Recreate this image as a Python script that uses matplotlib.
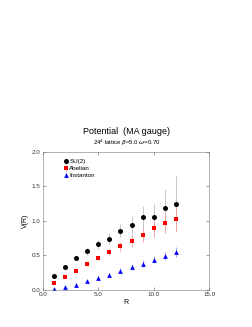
import matplotlib.pyplot as plt
import numpy as np

plt.rcParams["font.family"] = ["Liberation Sans", "DejaVu Sans"]

R = [1, 2, 3, 4, 5, 6, 7, 8, 9, 10, 11, 12]

su2 = [0.20, 0.34, 0.46, 0.56, 0.66, 0.74, 0.86, 0.94, 1.05, 1.05, 1.18, 1.25]
su2_err = [0.02, 0.02, 0.02, 0.05, 0.07, 0.08, 0.10, 0.13, 0.17, 0.20, 0.28, 0.40]

abelian = [0.10, 0.19, 0.28, 0.37, 0.46, 0.55, 0.63, 0.71, 0.80, 0.89, 0.97, 1.03]
abelian_err = [0.01, 0.01, 0.02, 0.02, 0.03, 0.05, 0.07, 0.09, 0.10, 0.12, 0.14, 0.18]

instanton = [0.01, 0.04, 0.08, 0.13, 0.17, 0.22, 0.28, 0.33, 0.38, 0.44, 0.49, 0.55]
instanton_err = [0.01, 0.01, 0.02, 0.02, 0.03, 0.03, 0.04, 0.04, 0.05, 0.05, 0.06, 0.07]

fig = plt.figure(figsize=(2.53, 3.27), dpi=100)
ax = fig.add_axes([0.169, 0.113, 0.658, 0.423])

series = [
    (su2, su2_err, "SU(2)", "o", "black", "#bdbdbd", 3.6),
    (abelian, abelian_err, "Abelian", "s", "red", "#f09a9a", 2.9),
    (instanton, instanton_err, "Instanton", "^", "blue", "#9a9af0", 3.4),
]
for vals, errs, label, marker, color, ecolor, ms in series:
    ax.errorbar(R, vals, yerr=errs, fmt=marker, color=color, ecolor=ecolor,
                elinewidth=0.6, capsize=2.5, capthick=0.6, markersize=ms,
                markeredgewidth=0, label=label)

ax.set_xlim(0, 15)
ax.set_ylim(0, 2.0)
ax.set_xticks([0, 5, 10, 15])
ax.set_xticklabels(["0.0", "5.0", "10.0", "15.0"])
ax.set_yticks([0, 0.5, 1.0, 1.5, 2.0])
ax.set_yticklabels(["0.0", "0.5", "1.0", "1.5", "2.0"])
ax.tick_params(direction="in", top=True, right=True, labelsize=4.5,
               length=2, width=0.4, pad=1.5, colors="#555555", labelcolor="#333333")
for sp in ax.spines.values():
    sp.set_linewidth(0.4)
    sp.set_color("#777777")

ax.set_xlabel("R", fontsize=5, labelpad=1)
ax.set_ylabel("V(R)", fontsize=5, labelpad=2)

fig.text(0.5, 0.597, "Potential  (MA gauge)", ha="center", va="center", fontsize=6.5)
fig.text(0.5, 0.562, r"24$^4$ lattice $\beta$=5.0 $\omega$=0.70", ha="center",
         va="center", fontsize=4.3)

leg = ax.legend(loc="upper left", bbox_to_anchor=(0.1, 0.98), fontsize=4.5,
                frameon=False, handlelength=0.6, handletextpad=0.3,
                labelspacing=0.25, borderpad=0.2)

fig.savefig("out.png", dpi=100)
